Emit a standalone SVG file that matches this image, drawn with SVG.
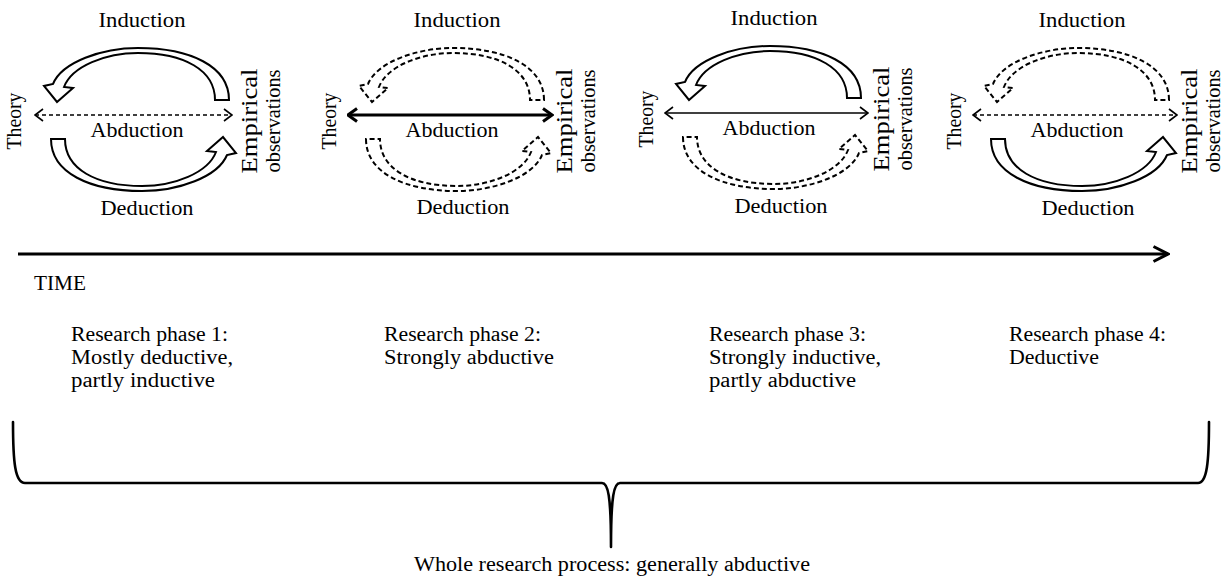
<svg xmlns="http://www.w3.org/2000/svg" width="1225" height="587" viewBox="0 0 1225 587" font-family="'Liberation Serif', 'Times New Roman', serif">
<style>
text{font-family:"Liberation Serif","Times New Roman",serif;font-size:20px;fill:#000}
.mid{text-anchor:middle}
.emp{font-size:23px}
.band{fill:#fff;stroke:#000;stroke-width:2;stroke-linejoin:miter}
.dash{stroke-dasharray:5 3}
.abd{fill:none;stroke:#000}
.thin{stroke-width:1.3}
.thick{stroke-width:3}
.dl{stroke-width:1.5;stroke-dasharray:4 3}
.brk{fill:none;stroke:#000;stroke-width:2.6;stroke-linecap:round}
</style>
<defs>
<marker id="chev" viewBox="0 0 10 14" refX="9" refY="7" markerWidth="10" markerHeight="14" markerUnits="userSpaceOnUse" orient="auto-start-reverse"><path d="M1,1 L9,7 L1,13" fill="none" stroke="#000" stroke-width="1.6" stroke-dasharray="none"/></marker>
<marker id="chevB" viewBox="0 0 12 16" refX="10.5" refY="8" markerWidth="12" markerHeight="16" markerUnits="userSpaceOnUse" orient="auto-start-reverse"><path d="M1.5,1.5 L10.5,8 L1.5,14.5" fill="none" stroke="#000" stroke-width="3"/></marker>
<marker id="chevT" viewBox="0 0 18 18" refX="16" refY="9" markerWidth="18" markerHeight="18" markerUnits="userSpaceOnUse" orient="auto"><path d="M1.5,1.5 L16,9 L1.5,16.5" fill="none" stroke="#000" stroke-width="3"/></marker>
<path id="arc" d="M229,100 C229,66 190,48 138,48 C102,48 62,62 53,84 L44,86 L57,102 L73,88 L64,87 C72,66 106,53 138,53 C184,53 215,70 215,100 Z"/>
</defs>

<g id="phase1-diagram">
  <g id="p1-theory"><text class="mid" transform="translate(21,121) rotate(-90)" textLength="57" lengthAdjust="spacingAndGlyphs">Theory</text></g>
  <g id="p1-empirical"><text class="mid emp" transform="translate(257,121) rotate(-90)" textLength="105" lengthAdjust="spacingAndGlyphs">Empirical</text><text class="mid" transform="translate(280,121) rotate(-90)" textLength="103" lengthAdjust="spacingAndGlyphs">observations</text></g>
  <g id="p1-connectors">
    <use href="#arc" class="band"/>
    <use href="#arc" class="band" transform="rotate(180,140,119.5)"/>
    <line class="abd dl" x1="35" y1="115" x2="232" y2="115" marker-start="url(#chev)" marker-end="url(#chev)"/>
    <text class="mid" x="142" y="27" textLength="87" lengthAdjust="spacingAndGlyphs">Induction</text>
    <text class="mid" x="137" y="137" textLength="93" lengthAdjust="spacingAndGlyphs">Abduction</text>
    <text class="mid" x="147" y="215" textLength="93" lengthAdjust="spacingAndGlyphs">Deduction</text>
  </g>
</g>

<g id="phase2-diagram" transform="translate(315,0)">
  <g id="p2-theory"><text class="mid" transform="translate(21,121) rotate(-90)" textLength="57" lengthAdjust="spacingAndGlyphs">Theory</text></g>
  <g id="p2-empirical"><text class="mid emp" transform="translate(257,121) rotate(-90)" textLength="105" lengthAdjust="spacingAndGlyphs">Empirical</text><text class="mid" transform="translate(280,121) rotate(-90)" textLength="103" lengthAdjust="spacingAndGlyphs">observations</text></g>
  <g id="p2-connectors">
    <use href="#arc" class="band dash"/>
    <use href="#arc" class="band dash" transform="rotate(180,140,119.5)"/>
    <line class="abd thick" x1="33" y1="115" x2="237" y2="115" marker-start="url(#chevB)" marker-end="url(#chevB)"/>
    <text class="mid" x="142" y="27" textLength="87" lengthAdjust="spacingAndGlyphs">Induction</text>
    <text class="mid" x="137" y="137" textLength="93" lengthAdjust="spacingAndGlyphs">Abduction</text>
    <text class="mid" x="148" y="214" textLength="93" lengthAdjust="spacingAndGlyphs">Deduction</text>
  </g>
</g>

<g id="phase3-diagram" transform="translate(632,-2)">
  <g id="p3-theory"><text class="mid" transform="translate(21,121) rotate(-90)" textLength="57" lengthAdjust="spacingAndGlyphs">Theory</text></g>
  <g id="p3-empirical"><text class="mid emp" transform="translate(257,121) rotate(-90)" textLength="105" lengthAdjust="spacingAndGlyphs">Empirical</text><text class="mid" transform="translate(280,121) rotate(-90)" textLength="103" lengthAdjust="spacingAndGlyphs">observations</text></g>
  <g id="p3-connectors">
    <use href="#arc" class="band"/>
    <use href="#arc" class="band dash" transform="rotate(180,140,119.5)"/>
    <line class="abd thin" x1="33" y1="115" x2="236" y2="115" marker-start="url(#chev)" marker-end="url(#chev)"/>
    <text class="mid" x="142" y="27" textLength="87" lengthAdjust="spacingAndGlyphs">Induction</text>
    <text class="mid" x="137" y="137" textLength="93" lengthAdjust="spacingAndGlyphs">Abduction</text>
    <text class="mid" x="149" y="215" textLength="93" lengthAdjust="spacingAndGlyphs">Deduction</text>
  </g>
</g>

<g id="phase4-diagram" transform="translate(940,0)">
  <g id="p4-theory"><text class="mid" transform="translate(21,121) rotate(-90)" textLength="57" lengthAdjust="spacingAndGlyphs">Theory</text></g>
  <g id="p4-empirical"><text class="mid emp" transform="translate(257,121) rotate(-90)" textLength="105" lengthAdjust="spacingAndGlyphs">Empirical</text><text class="mid" transform="translate(280,121) rotate(-90)" textLength="103" lengthAdjust="spacingAndGlyphs">observations</text></g>
  <g id="p4-connectors">
    <use href="#arc" class="band dash"/>
    <use href="#arc" class="band" transform="rotate(180,140,119.5)"/>
    <line class="abd dl" x1="33" y1="115" x2="237" y2="115" marker-start="url(#chev)" marker-end="url(#chev)"/>
    <text class="mid" x="142" y="27" textLength="87" lengthAdjust="spacingAndGlyphs">Induction</text>
    <text class="mid" x="137" y="137" textLength="93" lengthAdjust="spacingAndGlyphs">Abduction</text>
    <text class="mid" x="148" y="215" textLength="93" lengthAdjust="spacingAndGlyphs">Deduction</text>
  </g>
</g>

<g id="timeline">
  <line x1="18" y1="254" x2="1168" y2="254" stroke="#000" stroke-width="3" marker-end="url(#chevT)"/>
  <text x="34" y="290" textLength="52" lengthAdjust="spacingAndGlyphs">TIME</text>
</g>

<g id="phase1-text">
  <text x="71" y="341" textLength="157" lengthAdjust="spacingAndGlyphs">Research phase 1:</text>
  <text x="71" y="364" textLength="162" lengthAdjust="spacingAndGlyphs">Mostly deductive,</text>
  <text x="71" y="387" textLength="144" lengthAdjust="spacingAndGlyphs">partly inductive</text>
</g>
<g id="phase2-text">
  <text x="384" y="341" textLength="157" lengthAdjust="spacingAndGlyphs">Research phase 2:</text>
  <text x="384" y="364" textLength="170" lengthAdjust="spacingAndGlyphs">Strongly abductive</text>
</g>
<g id="phase3-text">
  <text x="709" y="341" textLength="157" lengthAdjust="spacingAndGlyphs">Research phase 3:</text>
  <text x="709" y="364" textLength="172" lengthAdjust="spacingAndGlyphs">Strongly inductive,</text>
  <text x="709" y="387" textLength="147" lengthAdjust="spacingAndGlyphs">partly abductive</text>
</g>
<g id="phase4-text">
  <text x="1009" y="341" textLength="157" lengthAdjust="spacingAndGlyphs">Research phase 4:</text>
  <text x="1009" y="364" textLength="90" lengthAdjust="spacingAndGlyphs">Deductive</text>
</g>

<g id="whole-process">
  <path class="brk" d="M13,422 C13,462 15,483 25,483 L602,483 C608,483 611,495 611,547 M620,483 C614,483 611,495 611,547 M620,483 L1198,483 C1207,483 1209,462 1209,422"/>
  <text class="mid" x="612" y="571" textLength="396" lengthAdjust="spacingAndGlyphs">Whole research process: generally abductive</text>
</g>
</svg>
